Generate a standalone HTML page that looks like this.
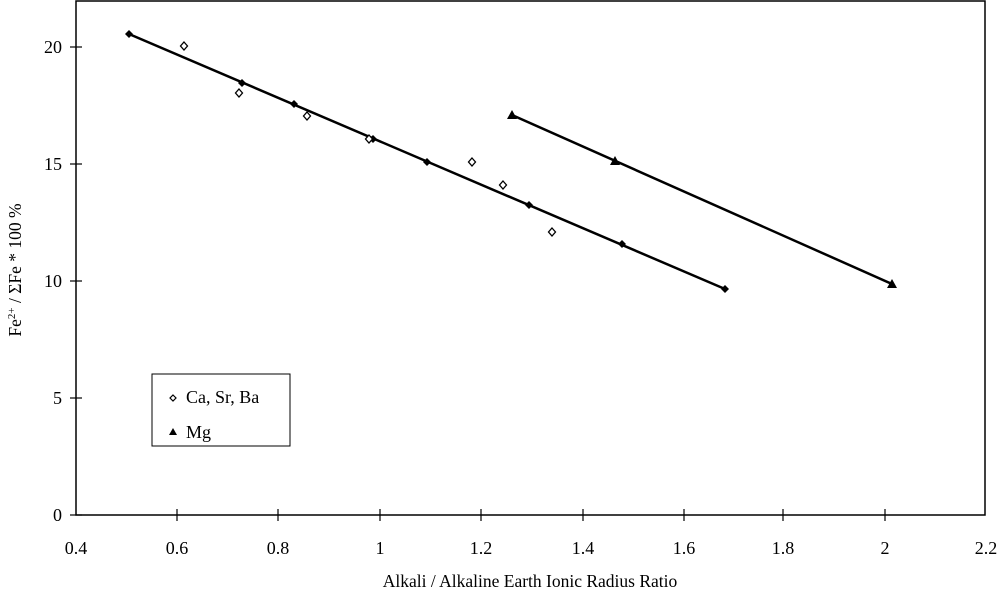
<!DOCTYPE html>
<html><head><style>body{margin:0;background:#fff}svg{display:block}</style></head><body>
<svg width="1000" height="595" xmlns="http://www.w3.org/2000/svg" font-family="Liberation Serif, serif" fill="#000">
<rect x="76" y="1" width="909" height="514" fill="none" stroke="#000" stroke-width="1.5"/>
<g stroke="#000" stroke-width="1.2">
<line x1="70" y1="47" x2="82" y2="47"/><line x1="70" y1="164" x2="82" y2="164"/><line x1="70" y1="281" x2="82" y2="281"/><line x1="70" y1="398" x2="82" y2="398"/><line x1="70" y1="515" x2="82" y2="515"/>
<line x1="177" y1="509" x2="177" y2="521"/><line x1="278" y1="509" x2="278" y2="521"/><line x1="380" y1="509" x2="380" y2="521"/><line x1="481" y1="509" x2="481" y2="521"/><line x1="583" y1="509" x2="583" y2="521"/><line x1="684" y1="509" x2="684" y2="521"/><line x1="783" y1="509" x2="783" y2="521"/><line x1="885" y1="509" x2="885" y2="521"/>
</g>
<g font-size="18" text-anchor="end"><text x="62" y="53">20</text><text x="62" y="170">15</text><text x="62" y="287">10</text><text x="62" y="404">5</text><text x="62" y="521">0</text></g>
<g font-size="18" text-anchor="middle"><text x="76" y="554">0.4</text><text x="177" y="554">0.6</text><text x="278" y="554">0.8</text><text x="380" y="554">1</text><text x="481" y="554">1.2</text><text x="583" y="554">1.4</text><text x="684" y="554">1.6</text><text x="783" y="554">1.8</text><text x="885" y="554">2</text><text x="986" y="554">2.2</text></g>
<text x="530" y="587" font-size="17.5" text-anchor="middle">Alkali / Alkaline Earth Ionic Radius Ratio</text>
<text transform="translate(21,270) rotate(-90)" font-size="17.5" text-anchor="middle">Fe<tspan dy="-6" font-size="11">2+</tspan><tspan dy="6"> / ΣFe * 100 %</tspan></text>
<line x1="129" y1="34" x2="725" y2="289" stroke="#000" stroke-width="2.5"/>
<line x1="512" y1="115" x2="892" y2="284" stroke="#000" stroke-width="2.5"/>
<g>
<path d="M129 30l4 4-4 4-4-4z"/><path d="M242 79l4 4-4 4-4-4z"/><path d="M294 100l4 4-4 4-4-4z"/><path d="M373 135l4 4-4 4-4-4z"/><path d="M427 158l4 4-4 4-4-4z"/><path d="M529 201l4 4-4 4-4-4z"/><path d="M622 240l4 4-4 4-4-4z"/><path d="M725 285l4 4-4 4-4-4z"/>
</g>
<g fill="#fff" stroke="#000" stroke-width="1.3">
<path d="M184 42l3.5 4-3.5 4-3.5-4z"/><path d="M239 89l3.5 4-3.5 4-3.5-4z"/><path d="M307 112l3.5 4-3.5 4-3.5-4z"/><path d="M369 135l3.5 4-3.5 4-3.5-4z"/><path d="M472 158l3.5 4-3.5 4-3.5-4z"/><path d="M503 181l3.5 4-3.5 4-3.5-4z"/><path d="M552 228l3.5 4-3.5 4-3.5-4z"/>
</g>
<g><path d="M512 110l5 9h-10z"/><path d="M615 156l5 9h-10z"/><path d="M892 279l5 9h-10z"/></g>
<rect x="152" y="374" width="138" height="72" fill="#fff" stroke="#000" stroke-width="1"/>
<path d="M173 395l3 3-3 3-3-3z" fill="#fff" stroke="#000" stroke-width="1.2"/>
<path d="M173 428l4 7h-8z"/>
<text x="186" y="403" font-size="18">Ca, Sr, Ba</text>
<text x="186" y="438" font-size="18">Mg</text>
</svg>
</body></html>
